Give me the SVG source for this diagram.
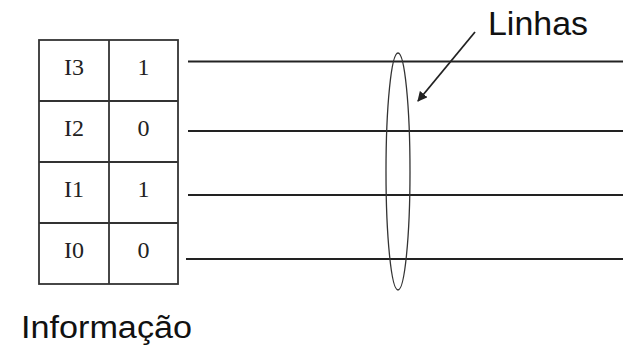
<svg xmlns="http://www.w3.org/2000/svg" width="623" height="346" viewBox="0 0 623 346">
<style>
.cell{fill:none;stroke:#333;stroke-width:1.8}
.ct{font-family:"Liberation Serif",serif;font-size:24px;fill:#222;text-anchor:middle}
.ln{stroke:#222;stroke-width:2.2}
.lbl{font-family:"Liberation Sans",Arial,sans-serif;fill:#111}
</style>
<defs>
<marker id="ah" markerWidth="10" markerHeight="10" refX="9" refY="5" orient="auto" markerUnits="userSpaceOnUse" viewBox="0 0 10 10">
<path d="M0,0 L10,5 L0,10 z" fill="#222"/>
</marker>
</defs>
<g id="table">
<rect class="cell" x="39" y="40" width="139" height="244"/>
<line class="cell" x1="109" y1="40" x2="109" y2="284"/>
<line class="cell" x1="39" y1="101" x2="178" y2="101"/>
<line class="cell" x1="39" y1="162" x2="178" y2="162"/>
<line class="cell" x1="39" y1="223" x2="178" y2="223"/>
<text class="ct" x="74" y="75">I3</text><text class="ct" x="143.5" y="75">1</text>
<text class="ct" x="74" y="136">I2</text><text class="ct" x="143.5" y="136">0</text>
<text class="ct" x="74" y="197">I1</text><text class="ct" x="143.5" y="197">1</text>
<text class="ct" x="74" y="258">I0</text><text class="ct" x="143.5" y="258">0</text>
</g>
<g id="connectors">
<line class="ln" x1="188" y1="61.5" x2="623" y2="61.5"/>
<line class="ln" x1="188" y1="131" x2="623" y2="131"/>
<line class="ln" x1="188" y1="195" x2="623" y2="195"/>
<line class="ln" x1="186" y1="259" x2="623" y2="259"/>
<line x1="475" y1="32" x2="418" y2="101" stroke="#222" stroke-width="1.8" marker-end="url(#ah)"/>
</g>
<g id="bundle">
<ellipse cx="398" cy="171.5" rx="12" ry="118.5" fill="none" stroke="#333" stroke-width="1.3"/>
</g>
<g id="linhas-label">
<text class="lbl" x="488" y="35" font-size="33" textLength="100" lengthAdjust="spacingAndGlyphs">Linhas</text>
</g>
<g id="informacao-label">
<text class="lbl" x="21" y="338" font-size="31" textLength="171" lengthAdjust="spacingAndGlyphs">Informação</text>
</g>
</svg>
